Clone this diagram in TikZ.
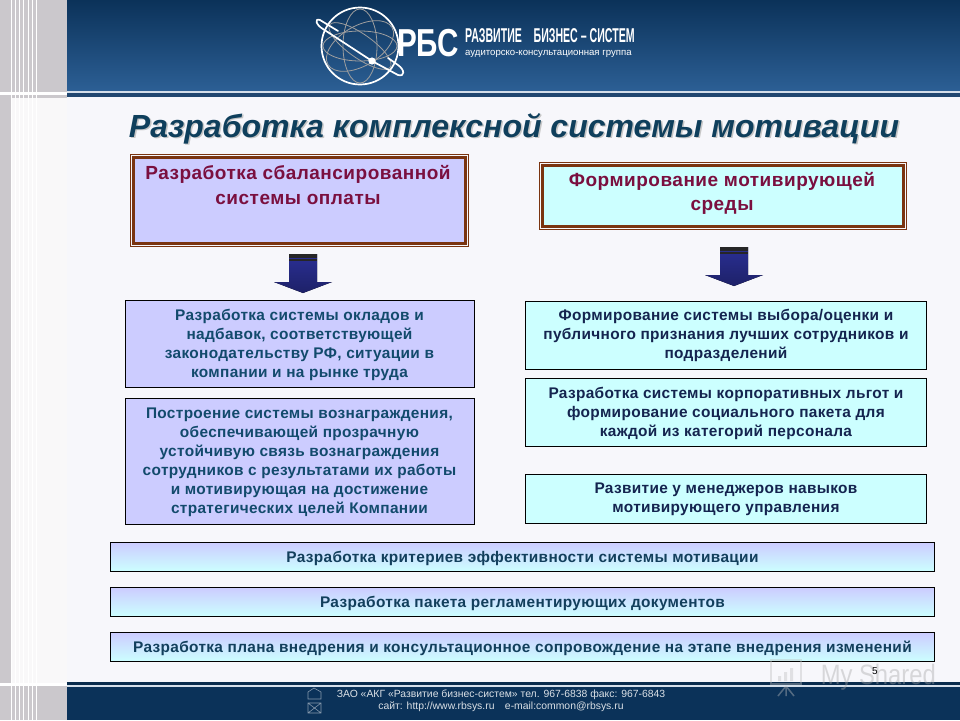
\documentclass[tikz,border=0pt]{standalone}
\usepackage{fontspec}
\setmainfont{Liberation Sans}
\usetikzlibrary{calc}
\definecolor{pagebg}{HTML}{F7F7FB}
\definecolor{navy}{HTML}{0B3259}
\definecolor{navyb}{HTML}{2C5F95}
\definecolor{lilac}{HTML}{CCCCFF}
\definecolor{aqua}{HTML}{CCFFFF}
\definecolor{brownb}{HTML}{7A3410}
\definecolor{wine}{HTML}{7A0F3F}
\definecolor{tealt}{HTML}{124A6C}
\definecolor{navyt}{HTML}{14244F}
\definecolor{bart}{HTML}{123F5C}
\definecolor{stripe}{HTML}{CBC8CC}
\definecolor{arrowb}{HTML}{2A2F94}
\tikzset{
  x=1pt,y=-1pt,
  topbox/.style={draw=brownb,line width=0.9pt,inner sep=0pt,anchor=north west},
  subbox/.style={draw=black,line width=0.9pt,inner sep=0pt,anchor=north west},
  boxtext/.style={align=center,font=\fontsize{15.4}{19}\selectfont\addfontfeatures{LetterSpace=2.2}\bfseries,anchor=center},
  toptext/.style={align=center,font=\fontsize{19}{24.5}\selectfont\addfontfeatures{LetterSpace=2.6}\bfseries,text=wine},
  blockarrow/.style={top color=arrowb,bottom color=arrowb!70!black,draw=none},
  globe/.style={draw=gray!75,line width=0.8pt},
  logoline/.style={draw=white,line width=1.7pt,line cap=round,line join=round},
}
\newcommand{\blockarr}[2]{%
  \begin{scope}[shift={(#1,#2)}]
    \fill[blockarrow] (-14,0) -- (14,0) -- (14,28) -- (29,28) -- (0,39) -- (-29,28) -- (-14,28) -- cycle;
    \fill[black!85] (-14,0) rectangle (14,3.5);
    \fill[black!85] (-14,5) rectangle (14,6.5);
  \end{scope}}
\begin{document}
\begin{tikzpicture}
\useasboundingbox (0,0) rectangle (960,720);
\fill[pagebg] (0,0) rectangle (960,720);
% left strip
\fill[stripe] (0,0) rectangle (67,720);
\fill[white!88!stripe] (11,98) rectangle (67,683);
\foreach \a in {11,15,19,23,28,32,36}{\fill[white] (\a,0) rectangle (\a+1.4,720);}
\fill[white] (0,92) rectangle (67,95);
\fill[white] (0,683) rectangle (67,686);
% header
\shade[top color=navy,bottom color=navyb] (67,0) rectangle (960,91);
\fill[white!80!navyb] (67,91) rectangle (960,93);
\fill[navyb!75!black] (67,93) rectangle (960,97);
% footer
\fill[navy!85!black] (67,682) rectangle (960,685);
\fill[white!80!navyb] (67,685) rectangle (960,687);
\fill[navy] (67,687) rectangle (960,720);
% logo
\draw[globe] (360,46) ellipse (37 and 15);
\draw[globe] (360,46) ellipse (17 and 37);
\draw[globe,rotate around={30:(360,46)}] (360,46) ellipse (37 and 20);
\draw[globe,rotate around={-35:(360,46)}] (360,46) ellipse (37 and 12);
\draw[logoline] (360,46) circle (38.5);
\draw[logoline] (338,31) -- (320,20) .. controls (314,18) and (316,25) .. (323,29) -- (372,61) -- (398,75) .. controls (405,77) and (405,70) .. (398,65) -- (388,58);
\fill[white] (372,61) circle (3.6);
\node[text=white,inner sep=0pt,font=\fontsize{39}{39}\selectfont\bfseries,xscale=0.76,anchor=west] (rbs) at (397,43) {РБС};
\node[text=white,inner sep=0pt,font=\fontsize{20}{20}\selectfont\bfseries,xscale=0.53,anchor=west] (dev) at (465,36) {РАЗВИТИЕ\hspace{22pt}БИЗНЕС – СИСТЕМ};
\node[text=white,inner sep=0pt,font=\fontsize{9.6}{10}\selectfont,anchor=west] (grp) at (465,54) {аудиторско-консультационная группа};
% title
\node[text=gray!45,font=\fontsize{32}{32}\selectfont\bfseries\itshape] at (515.5,130) {Разработка комплексной системы мотивации};
\node[text=tealt!85!black,font=\fontsize{32}{32}\selectfont\bfseries\itshape] (title) at (514,128.5) {Разработка комплексной системы мотивации};
% top boxes
\node[topbox,fill=pagebg,minimum width=338,minimum height=92] (lefttop) at (130,154) {};
\node[topbox,fill=pagebg,minimum width=367,minimum height=67] (righttop) at (539,162) {};
\draw[brownb,line width=3pt,fill=lilac] ($(lefttop.north west)+(3.5,3.5)$) rectangle ($(lefttop.south east)+(-3.5,-3.5)$);
\draw[brownb,line width=3pt,fill=aqua] ($(righttop.north west)+(3.5,3.5)$) rectangle ($(righttop.south east)+(-3.5,-3.5)$);
\node[toptext] (lefttxt) at (298,185) {Разработка сбалансированной\\системы оплаты};
\node[toptext] (righttxt) at (722,193.5) {Формирование мотивирующей\\среды};
% arrows
\blockarr{303}{254}
\blockarr{734}{247}
% sub boxes
\node[subbox,fill=lilac,minimum width=349,minimum height=87] (l1) at (124.5,300) {};
\node[boxtext,text=tealt] at ($(l1.center)+(0,0.5)$) {Разработка системы окладов и\\надбавок, соответствующей\\законодательству РФ, ситуации в\\компании и на рынке труда};
\node[subbox,fill=lilac,minimum width=349,minimum height=126] (l2) at (124.5,398) {};
\node[boxtext,text=tealt] at ($(l2.center)+(0,0.5)$) {Построение системы вознаграждения,\\обеспечивающей прозрачную\\устойчивую связь вознаграждения\\сотрудников с результатами их работы\\и мотивирующая на достижение\\стратегических целей Компании};
\node[subbox,fill=aqua,minimum width=401,minimum height=68] (r1) at (525,300.5) {};
\node[boxtext,text=navyt] at ($(r1.center)+(0,0.5)$) {Формирование системы выбора/оценки и\\публичного признания лучших сотрудников и\\подразделений};
\node[subbox,fill=aqua,minimum width=401,minimum height=68] (r2) at (525,377.5) {};
\node[boxtext,text=navyt] at ($(r2.center)+(0,1)$) {Разработка системы корпоративных льгот и\\формирование социального пакета для\\каждой из категорий персонала};
\node[subbox,fill=aqua,minimum width=401,minimum height=49] (r3) at (525,473.5) {};
\node[boxtext,text=navyt] at ($(r3.center)+(0,1)$) {Развитие у менеджеров навыков\\мотивирующего управления};
% bars
\foreach \n/\yy/\t in {b1/542/Разработка критериев эффективности системы мотивации,
                       b2/587/Разработка пакета регламентирующих документов,
                       b3/632/Разработка плана внедрения и консультационное сопровождение на этапе внедрения изменений}{
  \node[subbox,top color=lilac,bottom color=aqua,minimum width=824,minimum height=29] (\n) at (110,\yy) {};
  \node[boxtext,text=bart] at ($(\n.center)+(0,1.5)$) {\t};
}
% footer text
\node[text=white!85!navy,inner sep=0pt,font=\fontsize{10.4}{12}\selectfont,align=center] (foot) at (501,701) {ЗАО «АКГ «Развитие бизнес-систем» тел. 967-6838 факс: 967-6843\\сайт: http://www.rbsys.ru\quad e-mail:common@rbsys.ru};
\draw[white!50!navy,line width=0.6pt] (308,699) -- (308,692) -- (314,688) -- (321,692) -- (321,699) -- cycle;
\draw[white!50!navy,line width=0.6pt] (308,703) rectangle (321,713) (308,703) -- (321,713) (321,703) -- (308,713);
% watermark
\begin{scope}[opacity=0.4]
\draw[gray!50,line width=2pt] (771,660) rectangle (801,684);
\fill[gray!50] (778,676) rectangle (781,681) (784,672) rectangle (787,681) (790,668) rectangle (793,681);
\draw[gray!50,line width=1.5pt] (786,686) -- (778,696) (786,686) -- (786,696) (786,686) -- (794,696);
\node[text=gray!70,font=\fontsize{28}{28}\selectfont,xscale=0.85,inner sep=0pt,anchor=east] (wm) at (936,677) {My Shared};
\end{scope}
% page number
\node[text=black,font=\fontsize{10}{10}\selectfont,inner sep=0pt] (pg) at (875,671) {5};
\end{tikzpicture}
\end{document}
